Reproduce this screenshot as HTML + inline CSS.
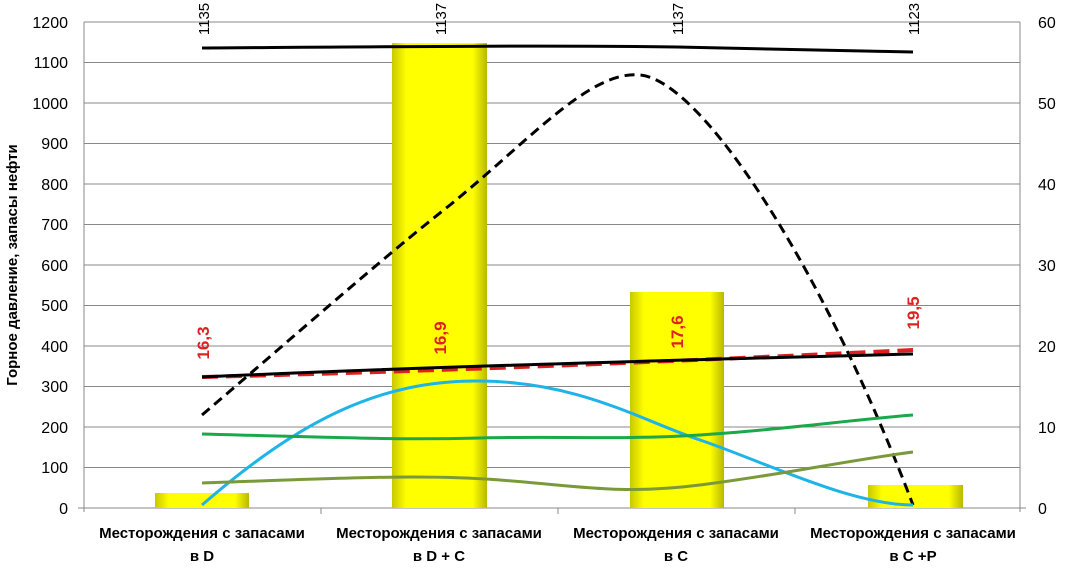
<!DOCTYPE html>
<html><head><meta charset="utf-8"><style>body{margin:0;background:#fff}</style></head><body>
<svg width="1072" height="564" xmlns="http://www.w3.org/2000/svg" font-family="Liberation Sans, sans-serif">
<defs><linearGradient id="y" x1="0" x2="1"><stop offset="0" stop-color="#c8c800"/><stop offset="0.15" stop-color="#ffff00"/><stop offset="0.85" stop-color="#ffff00"/><stop offset="1" stop-color="#b8b800"/></linearGradient></defs>
<g stroke="#888" stroke-width="1">
<line x1="84" y1="22" x2="1020" y2="22"/><line x1="84" y1="62.5" x2="1020" y2="62.5"/><line x1="84" y1="103" x2="1020" y2="103"/><line x1="84" y1="143.5" x2="1020" y2="143.5"/><line x1="84" y1="184" x2="1020" y2="184"/><line x1="84" y1="224.5" x2="1020" y2="224.5"/><line x1="84" y1="265" x2="1020" y2="265"/><line x1="84" y1="305.5" x2="1020" y2="305.5"/><line x1="84" y1="346" x2="1020" y2="346"/><line x1="84" y1="386.5" x2="1020" y2="386.5"/><line x1="84" y1="427" x2="1020" y2="427"/><line x1="84" y1="467.5" x2="1020" y2="467.5"/>
<line x1="84" y1="22" x2="84" y2="512"/><line x1="1020" y1="22" x2="1020" y2="512"/>
<line x1="78" y1="508" x2="1026" y2="508"/>
<line x1="321" y1="508" x2="321" y2="514"/><line x1="558" y1="508" x2="558" y2="514"/><line x1="795" y1="508" x2="795" y2="514"/>
</g>
<g fill="url(#y)"><rect x="155" y="493" width="94" height="15"/><rect x="392" y="43" width="95" height="465"/><rect x="630" y="292" width="94" height="216"/><rect x="868" y="485" width="95" height="23"/></g>
<g fill="none" stroke-width="3">
<path d="M202 48 C350 47 550 45 677 47 S850 51 913 52" stroke="#000"/>
<path d="M202 415 C290 340 380 260 450 205 C530 140 590 70 640 75 C700 80 820 260 913 505" stroke="#000" stroke-dasharray="10,6"/>
<path d="M202 377 C400 372 600 365 913 350" stroke="#e02020" stroke-dasharray="16,8" stroke-width="4"/>
<path d="M202 377 C400 368 600 362 913 354" stroke="#000"/>
<path d="M202 505 C300 420 380 380 480 381 S640 420 700 440 S850 505 913 505" stroke="#1eb4e8"/>
<path d="M202 434 C350 438 400 440 480 438 S620 440 700 435 S850 420 913 415" stroke="#1aa84a"/>
<path d="M202 483 C350 478 420 474 500 480 S620 495 700 485 S850 460 913 452" stroke="#7a9a3a"/>
</g>
<g font-size="16" fill="#000" text-anchor="end">
<text x="68" y="28">1200</text><text x="68" y="68">1100</text><text x="68" y="109">1000</text><text x="68" y="149">900</text><text x="68" y="190">800</text><text x="68" y="230">700</text><text x="68" y="271">600</text><text x="68" y="311">500</text><text x="68" y="352">400</text><text x="68" y="392">300</text><text x="68" y="433">200</text><text x="68" y="473">100</text><text x="68" y="514">0</text>
</g>
<g font-size="16" fill="#000" text-anchor="start">
<text x="1038" y="28">60</text><text x="1038" y="109">50</text><text x="1038" y="190">40</text><text x="1038" y="271">30</text><text x="1038" y="352">20</text><text x="1038" y="433">10</text><text x="1038" y="514">0</text>
</g>
<text transform="translate(17,265) rotate(-90)" font-size="15" text-anchor="middle" font-weight="bold">Горное давление, запасы нефти</text>
<g font-size="15" text-anchor="middle">
<text transform="translate(209,19) rotate(-90)">1135</text><text transform="translate(446,19) rotate(-90)">1137</text><text transform="translate(683,19) rotate(-90)">1137</text><text transform="translate(919,19) rotate(-90)">1123</text>
</g>
<g font-size="17" font-weight="bold" fill="#e02020" text-anchor="middle">
<text transform="translate(209,343) rotate(-90)">16,3</text><text transform="translate(446,338) rotate(-90)">16,9</text><text transform="translate(683,332) rotate(-90)">17,6</text><text transform="translate(919,313) rotate(-90)">19,5</text>
</g>
<g font-size="15" font-weight="bold" text-anchor="middle">
<text x="202" y="538">Месторождения с запасами</text><text x="202" y="561">в D</text>
<text x="439" y="538">Месторождения с запасами</text><text x="439" y="561">в D + C</text>
<text x="676" y="538">Месторождения с запасами</text><text x="676" y="561">в  C</text>
<text x="913" y="538">Месторождения с запасами</text><text x="913" y="561">в C +P</text>
</g>
</svg>
</body></html>
